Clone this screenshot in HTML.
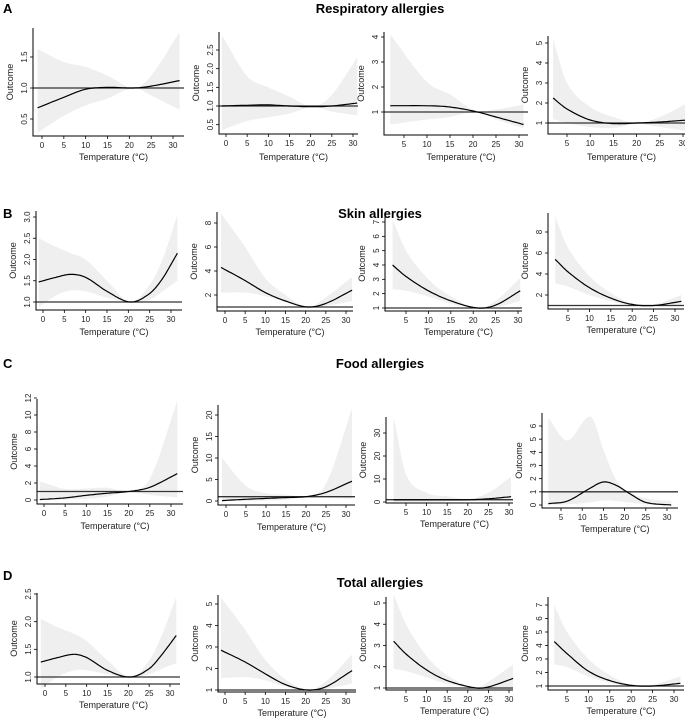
<!DOCTYPE html>
<html><head><meta charset="utf-8">
<style>
html,body{margin:0;padding:0;background:#fff;}
svg{display:block;font-family:"Liberation Sans",Arial,sans-serif;}
</style></head>
<body>
<svg id="fig" width="685" height="721" viewBox="0 0 685 721">
<text x="3" y="13" font-size="13" font-weight="bold">A</text>
<text x="380" y="13" font-size="13" font-weight="bold" text-anchor="middle">Respiratory allergies</text>
<text x="3" y="218" font-size="13" font-weight="bold">B</text>
<text x="380" y="218" font-size="13" font-weight="bold" text-anchor="middle">Skin allergies</text>
<text x="3" y="368" font-size="13" font-weight="bold">C</text>
<text x="380" y="368" font-size="13" font-weight="bold" text-anchor="middle">Food allergies</text>
<text x="3" y="580" font-size="13" font-weight="bold">D</text>
<text x="380" y="587" font-size="13" font-weight="bold" text-anchor="middle">Total allergies</text>
</svg>
<script>
// ---- Data (temperature grid, estimate, lower CI, upper CI) per panel ----
const tempsA1=[-1,5,10,15,21,25,31.5];
const estA1=[0.68,0.85,0.98,1.01,1.0,1.03,1.12];
const loA1=[0.28,0.55,0.72,0.83,1.0,0.88,0.65];
const hiA1=[1.63,1.42,1.34,1.2,1.0,1.2,1.9];

const tempsA2=[-1,5,10,15,20.5,25,31];
const estA2=[1.0,1.02,1.03,1.0,0.98,1.0,1.08];
const loA2=[0.35,0.6,0.7,0.8,0.98,0.85,0.75];
const hiA2=[2.9,1.8,1.5,1.25,0.98,1.3,2.3];

const tempsA3=[2,10,15,20.5,25,31];
const estA3=[1.25,1.25,1.2,1.02,0.8,0.5];
const loA3=[0.5,0.7,0.8,1.0,0.7,0.35];
const hiA3=[4.1,2.2,1.7,1.05,1.1,1.3];

const tempsA4=[2,5,10,15,20,25,31];
const estA4=[2.25,1.7,1.15,0.97,1.0,1.05,1.15];
const loA4=[1.2,1.0,0.8,0.75,0.95,0.8,0.6];
const hiA4=[5.2,3.0,1.8,1.3,1.0,1.3,2.0];

const tempsB1=[-1,3,6.5,10,15,20.5,25,28,31.5];
const estB1=[1.47,1.58,1.65,1.58,1.25,1.0,1.2,1.55,2.15];
const loB1=[0.88,1.15,1.27,1.25,1.1,1.0,1.05,1.25,1.5];
const hiB1=[2.5,2.3,2.15,2.0,1.5,1.0,1.4,2.0,3.05];

const tempsB2=[-1,5,10,15,20.5,25,31.5];
const estB2=[4.3,3.2,2.2,1.5,1.0,1.3,2.4];
const loB2=[2.2,2.2,1.9,1.4,1.0,1.1,1.5];
const hiB2=[8.8,6.0,3.4,2.0,1.0,1.8,3.5];

const tempsB3=[2,5,10,15,21,25,30.5];
const estB3=[4.0,3.2,2.2,1.5,1.0,1.2,2.2];
const loB3=[2.3,2.2,1.8,1.3,1.0,1.05,1.5];
const hiB3=[7.2,5.0,3.0,1.8,1.0,1.5,3.1];

const tempsB4=[2,5,10,15,20,25,31.5];
const estB4=[5.4,4.2,2.7,1.7,1.1,1.0,1.4];
const loB4=[3.1,2.8,2.0,1.4,1.0,0.95,1.0];
const hiB4=[9.5,6.5,3.8,2.2,1.2,1.1,2.0];

const tempsC1=[-1,5,10,15,20,25,31.5];
const estC1=[0.05,0.25,0.55,0.8,1.0,1.5,3.1];
const loC1=[0.0,0.05,0.15,0.4,0.95,0.6,0.3];
const hiC1=[2.2,1.3,1.35,1.45,1.05,2.5,11.7];

const tempsC2=[-1,5,10,15,20,25,31.5];
const estC2=[0.1,0.4,0.6,0.8,1.0,2.0,4.6];
const loC2=[0,0,0.1,0.3,0.9,0.8,0.5];
const hiC2=[10,3.5,1.8,1.5,1.1,4,21.5];

const tempsC3=[2,5,10,15,20,25,30.5];
const estC3=[0.9,0.9,0.9,0.9,0.95,1.4,2.3];
const loC3=[0,0,0.1,0.3,0.6,0.5,0.3];
const hiC3=[37,12,4,2.5,1.3,4,11];

const tempsC4=[2,6.5,12,15,18,21,25,31];
const estC4=[0.1,0.3,1.3,1.75,1.5,0.9,0.2,0.0];
const loC4=[0.02,0.05,0.2,0.35,0.3,0.2,0.05,0];
const hiC4=[6.6,4.9,6.7,4.2,1.9,1.0,0.5,0.3];

const tempsD1=[-1,3,7,10,15,20.5,25,28,31.5];
const estD1=[1.27,1.35,1.41,1.35,1.12,1.0,1.15,1.4,1.75];
const loD1=[0.78,1.0,1.12,1.12,1.05,1.0,1.05,1.15,1.25];
const hiD1=[2.05,1.9,1.78,1.65,1.3,1.0,1.3,1.75,2.45];

const tempsD2=[-1,5,10,15,20.5,25,31.5];
const estD2=[2.85,2.3,1.75,1.25,1.0,1.15,1.9];
const loD2=[1.55,1.6,1.45,1.15,1.0,1.05,1.3];
const hiD2=[5.3,3.8,2.4,1.5,1.0,1.4,2.65];

const tempsD3=[2,5,10,15,22,25,31];
const estD3=[3.2,2.6,1.85,1.35,1.0,1.05,1.45];
const loD3=[1.9,1.8,1.5,1.2,1.0,0.95,0.95];
const hiD3=[5.4,4.0,2.5,1.6,1.0,1.3,2.1];

const tempsD4=[2,5,10,15,20,25,31.5];
const estD4=[4.3,3.4,2.1,1.4,1.05,1.0,1.2];
const loD4=[2.6,2.4,1.7,1.25,1.0,0.95,0.9];
const hiD4=[7.0,5.0,3.0,1.8,1.1,1.1,1.7];

const xticks0=[0,5,10,15,20,25,30];
const xticks5=[5,10,15,20,25,30];
const yticksA1=[0.5,1,1.5], yticksA2=[0.5,1,1.5,2,2.5], yticksA3=[1,2,3,4], yticksA4=[1,2,3,4,5];
const yticksB1=[1,1.5,2,2.5,3], yticksB2=[2,4,6,8], yticksB3=[1,2,3,4,5,6,7], yticksB4=[2,4,6,8];
const yticksC1=[0,2,4,6,8,10,12], yticksC2=[0,5,10,15,20], yticksC3=[0,10,20,30], yticksC4=[0,1,2,3,4,5,6];
const yticksD1=[1,1.5,2,2.5], yticksD2=[1,2,3,4,5], yticksD3=[1,2,3,4,5], yticksD4=[1,2,3,4,5,6,7];

// ---- layout (pixel geometry of each panel) ----
const panels=[
 {id:'a1',t:tempsA1,e:estA1,l:loA1,h:hiA1,xt:xticks0,yt:yticksA1,ax:33,top:28,bot:136,right:184,xm:[0,42,30,173],ym:[0.5,119,1.5,57],xl:157,dec:1},
 {id:'a2',t:tempsA2,e:estA2,l:loA2,h:hiA2,xt:xticks0,yt:yticksA2,ax:219,top:32,bot:134,right:358,xm:[0,226,30,353],ym:[1,106,2.5,50],xl:157,dec:1},
 {id:'a3',t:tempsA3,e:estA3,l:loA3,h:hiA3,xt:xticks5,yt:yticksA3,ax:384,top:32,bot:135,right:528,xm:[5,404,30,519],ym:[1,112,4,37],xl:157,dec:0},
 {id:'a4',t:tempsA4,e:estA4,l:loA4,h:hiA4,xt:xticks5,yt:yticksA4,ax:548,top:36,bot:134,right:685,xm:[5,567,30,683],ym:[1,123,5,43],xl:157,dec:0},
 {id:'b1',t:tempsB1,e:estB1,l:loB1,h:hiB1,xt:xticks0,yt:yticksB1,ax:36,top:211,bot:310,right:182,xm:[0,43,30,171],ym:[1,302,3,217],xl:332,dec:1},
 {id:'b2',t:tempsB2,e:estB2,l:loB2,h:hiB2,xt:xticks0,yt:yticksB2,ax:217,top:212,bot:311,right:353,xm:[0,225,30,346],ym:[2,295,8,223],xl:332,dec:0},
 {id:'b3',t:tempsB3,e:estB3,l:loB3,h:hiB3,xt:xticks5,yt:yticksB3,ax:385,top:216,bot:311,right:522,xm:[5,406,30,518],ym:[1,308,7,222],xl:332,dec:0},
 {id:'b4',t:tempsB4,e:estB4,l:loB4,h:hiB4,xt:xticks5,yt:yticksB4,ax:548,top:213,bot:309,right:684,xm:[5,568,30,675],ym:[2,295,8,232],xl:330,dec:0},
 {id:'c1',t:tempsC1,e:estC1,l:loC1,h:hiC1,xt:xticks0,yt:yticksC1,ax:37,top:399,bot:504,right:183,xm:[0,44,30,171],ym:[0,500,12,398],xl:526,dec:0},
 {id:'c2',t:tempsC2,e:estC2,l:loC2,h:hiC2,xt:xticks0,yt:yticksC2,ax:218,top:405,bot:505,right:355,xm:[0,226,30,346],ym:[0,501,20,415],xl:527,dec:0},
 {id:'c3',t:tempsC3,e:estC3,l:loC3,h:hiC3,xt:xticks5,yt:yticksC3,ax:386,top:417,bot:503,right:513,xm:[5,406,30,509],ym:[0,502,30,433],xl:524,dec:0},
 {id:'c4',t:tempsC4,e:estC4,l:loC4,h:hiC4,xt:xticks5,yt:yticksC4,ax:542,top:413,bot:508,right:678,xm:[5,561,30,667],ym:[0,505,6,426],xl:529,dec:0},
 {id:'d1',t:tempsD1,e:estD1,l:loD1,h:hiD1,xt:xticks0,yt:yticksD1,ax:37,top:593,bot:684,right:180,xm:[0,45,30,170],ym:[1,677,2.5,594],xl:705,dec:1},
 {id:'d2',t:tempsD2,e:estD2,l:loD2,h:hiD2,xt:xticks0,yt:yticksD2,ax:218,top:595,bot:692,right:356,xm:[0,225,30,346],ym:[1,690,5,604],xl:713,dec:0},
 {id:'d3',t:tempsD3,e:estD3,l:loD3,h:hiD3,xt:xticks5,yt:yticksD3,ax:386,top:597,bot:690,right:513,xm:[5,406,30,509],ym:[1,688,5,603],xl:711,dec:0},
 {id:'d4',t:tempsD4,e:estD4,l:loD4,h:hiD4,xt:xticks5,yt:yticksD4,ax:548,top:597,bot:690,right:684,xm:[5,567,30,674],ym:[1,686,7,605],xl:711,dec:0}
];

const NS='http://www.w3.org/2000/svg';
const fig=document.getElementById('fig');
function mk(tag,attrs,parent){const el=document.createElementNS(NS,tag);for(const k in attrs)el.setAttribute(k,attrs[k]);(parent||fig).appendChild(el);return el;}

// Catmull-Rom sampled smooth curve in data space
function smooth(ts,vs){
  const out=[];const n=ts.length;
  for(let i=0;i<n-1;i++){
    const t0=ts[Math.max(i-1,0)],t1=ts[i],t2=ts[i+1],t3=ts[Math.min(i+2,n-1)];
    const v0=vs[Math.max(i-1,0)],v1=vs[i],v2=vs[i+1],v3=vs[Math.min(i+2,n-1)];
    const m1=(v2-v0)/((t2-t0)||1)*(t2-t1), m2=(v3-v1)/((t3-t1)||1)*(t2-t1);
    for(let s=0;s<12;s++){
      const u=s/12,u2=u*u,u3=u2*u;
      const v=(2*u3-3*u2+1)*v1+(u3-2*u2+u)*m1+(-2*u3+3*u2)*v2+(u3-u2)*m2;
      out.push([t1+(t2-t1)*u,v]);
    }
  }
  out.push([ts[n-1],vs[n-1]]);
  return out;
}

panels.forEach(p=>{
  const g=mk('g',{});
  
  
  const X=v=>p.xm[1]+(v-p.xm[0])*(p.xm[3]-p.xm[1])/(p.xm[2]-p.xm[0]);
  const Y=v=>p.ym[1]+(v-p.ym[0])*(p.ym[3]-p.ym[1])/(p.ym[2]-p.ym[0]);
  const hiS=smooth(p.t,p.h), loS=smooth(p.t,p.l);
  let d='M'+hiS.map(q=>X(q[0]).toFixed(1)+','+Y(q[1]).toFixed(1)).join('L');
  d+='L'+loS.reverse().map(q=>X(q[0]).toFixed(1)+','+Y(q[1]).toFixed(1)).join('L')+'Z';
  const band=mk('path',{d:d,fill:'#efefef',stroke:'none'},g);
  
  
  const ref=mk('line',{x1:p.ax,x2:p.right,y1:Y(1),y2:Y(1),stroke:'#333',"stroke-width":1.3},g);
  
  
  const eS=smooth(p.t,p.e);
  const est=mk('path',{d:'M'+eS.map(q=>X(q[0]).toFixed(1)+','+Y(q[1]).toFixed(1)).join('L'),fill:'none',stroke:'#000',"stroke-width":1.2},g);
  
  
  const axes=mk('path',{d:`M${p.ax},${p.top}V${p.bot}H${p.right}`,fill:'none',stroke:'#000',"stroke-width":1},g);
  
  
  p.xt.forEach(v=>{
    mk('line',{x1:X(v),x2:X(v),y1:p.bot,y2:p.bot+3,stroke:'#000',"stroke-width":0.8},g);
    const t=mk('text',{x:X(v),y:p.bot+12,"font-size":8,"text-anchor":"middle",fill:'#222'},g);
    
    
    t.textContent=v;
  });
  p.yt.forEach(v=>{
    mk('line',{x1:p.ax-3,x2:p.ax,y1:Y(v),y2:Y(v),stroke:'#000',"stroke-width":0.8},g);
    const tx=p.ax-6,ty=Y(v);
    const t=mk('text',{x:tx,y:ty,"font-size":8,"text-anchor":"middle",fill:'#222',transform:`rotate(-90 ${tx} ${ty})`},g);
    
    
    t.textContent=p.dec?v.toFixed(1):v;
  });
  const xl=mk('text',{x:(p.ax+p.right)/2+5,y:p.xl+3,"font-size":9,"text-anchor":"middle",fill:'#222'},g);
  
  
  xl.textContent='Temperature (°C)';
  const yx=p.ax-20, yy=(p.top+p.bot)/2;
  const yl=mk('text',{x:yx,y:yy,"font-size":9,"text-anchor":"middle",fill:'#222',transform:`rotate(-90 ${yx} ${yy})`},g);
  
  
  yl.textContent='Outcome';
});
</script>
</body></html>
